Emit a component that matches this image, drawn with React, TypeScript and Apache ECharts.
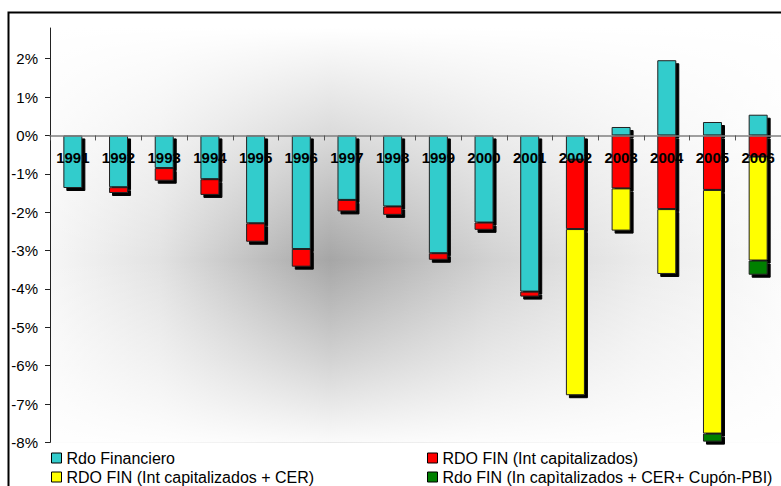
import React, { useEffect, useRef } from "react";
import * as echarts from "echarts";

const years = ["1991", "1992", "1993", "1994", "1995", "1996", "1997", "1998", "1999", "2000", "2001", "2002", "2003", "2004", "2005", "2006"];
const rdoFinanciero = [-1.37, -1.35, -0.85, -1.14, -2.29, -2.96, -1.68, -1.85, -3.07, -2.27, -4.07, -0.63, 0.22, 1.96, 0.35, 0.54];
const intCapitalizados = [null, -0.15, -0.33, -0.41, -0.48, -0.46, -0.3, -0.22, -0.17, -0.19, -0.13, -1.81, -1.38, -1.92, -1.42, -0.55];
const intCapCer = [null, null, null, null, null, null, null, null, null, null, null, -4.33, -1.1, -1.69, -6.35, -2.71];
const intCapCerPbi = [null, null, null, null, null, null, null, null, null, null, null, null, null, null, -0.21, -0.37];
const yTicks = [-8, -7, -6, -5, -4, -3, -2, -1, 0, 1, 2];
const yMin = -8;
const yMax = 2.8;

const seriesNames = [
  "Rdo Financiero",
  "RDO FIN (Int capitalizados)",
  "RDO FIN (Int capitalizados + CER)",
  "Rdo FIN (In capìtalizados + CER+ Cupón-PBI)",
];
const seriesColors = ["#33CCCC", "#FF0000", "#FFFF00", "#008000"];
const seriesData = [rdoFinanciero, intCapitalizados, intCapCer, intCapCerPbi];

const FONT = "'Liberation Sans', Arial, sans-serif";

export default function App() {
  const ref = useRef<HTMLDivElement>(null);
  useEffect(() => {
    if (!ref.current) return;
    const chart = echarts.init(ref.current, null, { renderer: "svg" });
    const gridLeft = 50;
    const gridTop = 28;
    const gridW = 736;
    const gridH = 414.4;
    // distance from the grid bottom up to the zero line
    const zeroOffset = (gridH * (0 - yMin)) / (yMax - yMin);
    const legendStyle = {
      orient: "horizontal" as const,
      itemWidth: 10,
      itemHeight: 10,
      icon: "rect",
      textStyle: { fontFamily: FONT, fontSize: 16, color: "#000", lineHeight: 16 },
      itemStyle: { borderColor: "#000", borderWidth: 1, shadowBlur: 0, shadowOffsetX: 0, shadowOffsetY: 0, shadowColor: "rgba(0,0,0,0)" },
      padding: 0,
    };
    const legendPos = [
      { left: 51, top: 450 },
      { left: 427, top: 450 },
      { left: 51, top: 469 },
      { left: 427, top: 469 },
    ];
    const legendOrder = [0, 1, 2, 3];
    chart.setOption({
      animation: false,
      backgroundColor: "#fff",
      grid: { left: gridLeft, top: gridTop, right: 781 - gridLeft - gridW, bottom: 486 - gridTop - gridH, containLabel: false },
      legend: legendOrder.map((si, i) => ({ ...legendStyle, ...legendPos[i], data: [seriesNames[si]] })),
      graphic: [
        {
          type: "rect",
          z: -10,
          silent: true,
          shape: { x: gridLeft, y: gridTop, width: gridW, height: gridH },
          style: {
            fill: new echarts.graphic.LinearGradient(0, 0, 1, 0, [
              { offset: 0, color: "#f6f6f6" },
              { offset: 0.15, color: "#e2e2e2" },
              { offset: 0.38, color: "#a6a6a6" },
              { offset: 0.6, color: "#d2d2d2" },
              { offset: 0.8, color: "#ebebeb" },
              { offset: 1, color: "#fbfbfb" },
            ]),
          },
        },
        {
          type: "rect",
          z: -9,
          silent: true,
          shape: { x: gridLeft, y: gridTop, width: gridW, height: gridH },
          style: {
            fill: new echarts.graphic.LinearGradient(0, 0, 0, 1, [
              { offset: 0, color: "rgba(255,255,255,1)" },
              { offset: 0.25, color: "rgba(255,255,255,0.6)" },
              { offset: 0.56, color: "rgba(255,255,255,0)" },
              { offset: 0.8, color: "rgba(255,255,255,0.5)" },
              { offset: 1, color: "rgba(255,255,255,0.95)" },
            ]),
          },
        },
        {
          type: "rect",
          z: 100,
          silent: true,
          shape: { x: 8.5, y: 12.5, width: 800, height: 500 },
          style: { fill: "none", stroke: "#000", lineWidth: 2 },
        },
      ],
      xAxis: {
        type: "category",
        data: years,
        z: 5,
        position: "bottom",
        offset: -zeroOffset,
        axisLine: { onZero: false, lineStyle: { color: "#808080", width: 1.5 } },
        axisTick: { show: true, length: 5, lineStyle: { color: "#555", width: 1 } },
        axisLabel: { margin: 15, fontFamily: FONT, fontSize: 15, fontWeight: "bold", color: "#000", interval: 0 },
        splitLine: { show: false },
      },
      yAxis: {
        type: "value",
        min: yMin,
        max: yMax,
        interval: 1,
        axisLine: { show: true, onZero: false, lineStyle: { color: "#222", width: 1 } },
        axisTick: { show: true, length: 5, lineStyle: { color: "#222" }, customValues: yTicks },
        axisLabel: {
          margin: 12,
          fontFamily: FONT,
          fontSize: 15,
          color: "#000",
          customValues: yTicks,
          formatter: (v: number) => `${v}%`,
        },
        splitLine: { show: false },
      },
      series: seriesNames.map((name, i) => ({
        name,
        type: "bar",
        stack: "total",
        barWidth: 19,
        data: seriesData[i],
        itemStyle: {
          color: seriesColors[i],
          borderColor: "#222",
          borderWidth: 1,
          shadowColor: "#000",
          shadowBlur: 0,
          shadowOffsetX: 3,
          shadowOffsetY: 3,
        },
        emphasis: { disabled: true },
      })),
    });
    return () => chart.dispose();
  }, []);
  return <div ref={ref} style={{ position: "fixed", left: 0, top: 0, width: 781, height: 486 }} />;
}
